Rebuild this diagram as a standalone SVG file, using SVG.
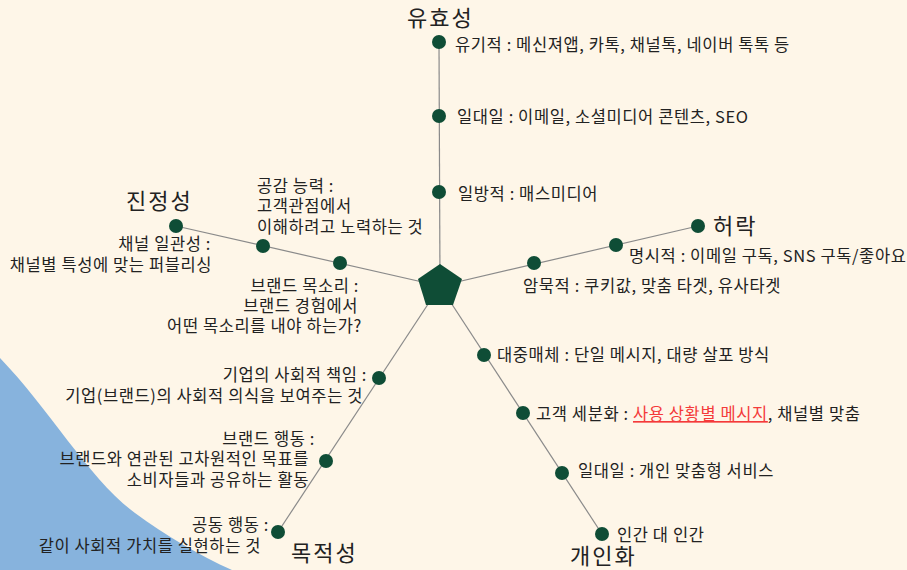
<svg xmlns="http://www.w3.org/2000/svg" width="907" height="570" viewBox="0 0 907 570">
<style>
text{font-family:"Noto Sans CJK KR","Noto Sans",sans-serif;fill:#222;}
.t{font-size:22px;letter-spacing:2px;}
.l{font-size:16.5px;letter-spacing:0.6px;}
.e{text-anchor:end;}
.dot{fill:#0f4d36;}
.ln{stroke:#8a8a8a;stroke-width:1.2;fill:none;}
.red{fill:#f43a3a;text-decoration:underline;}
</style>
<rect width="907" height="570" fill="#fef6e8"/>
<path d="M0,358 C50,410 90,480 135,513 C165,535 200,556 232,570 L0,570 Z" fill="#87b3dd"/>
<g id="connectors">
<line class="ln" x1="440" y1="286" x2="439" y2="42"/>
<line class="ln" x1="440" y1="286" x2="176" y2="226"/>
<line class="ln" x1="440" y1="286" x2="698" y2="226"/>
<line class="ln" x1="440" y1="286" x2="278" y2="532"/>
<line class="ln" x1="440" y1="286" x2="602" y2="534"/>
</g>
<g id="center"><polygon points="440,264 462,279 453,305 426,305 418,279" fill="#0f4d36"/></g>
<g id="effectiveness">
<text class="t" x="407" y="26">유효성</text>
<g id="e1"><circle class="dot" cx="439" cy="42" r="7"/><text class="l" x="455" y="51">유기적 : 메신져앱, 카톡, 채널톡, 네이버 톡톡 등</text></g>
<g id="e2"><circle class="dot" cx="439" cy="116" r="7"/><text class="l" x="457" y="123">일대일 : 이메일, 소셜미디어 콘텐츠, SEO</text></g>
<g id="e3"><circle class="dot" cx="439" cy="192" r="7"/><text class="l" x="458" y="200">일방적 : 매스미디어</text></g>
</g>
<g id="authenticity">
<text class="t" x="126" y="209">진정성</text>
<g id="a1"><circle class="dot" cx="176" cy="226" r="7"/><text class="l e"><tspan x="211" y="250">채널 일관성 :</tspan><tspan x="212" y="271">채널별 특성에 맞는 퍼블리싱</tspan></text></g>
<g id="a2"><circle class="dot" cx="263" cy="246" r="7"/><text class="l"><tspan x="257" y="192">공감 능력 :</tspan><tspan x="257" y="212">고객관점에서</tspan><tspan x="257" y="233">이해하려고 노력하는 것</tspan></text></g>
<g id="a3"><circle class="dot" cx="340" cy="263" r="7"/><text class="l e"><tspan x="359" y="292">브랜드 목소리 :</tspan><tspan x="358" y="312">브랜드 경험에서</tspan><tspan x="362" y="332">어떤 목소리를 내야 하는가?</tspan></text></g>
</g>
<g id="permission">
<g id="p0"><circle class="dot" cx="698" cy="226" r="7"/><text class="t" x="713" y="234">허락</text></g>
<g id="p1"><circle class="dot" cx="616" cy="245" r="7"/><text class="l" x="629" y="262">명시적 : 이메일 구독, SNS 구독/좋아요</text></g>
<g id="p2"><circle class="dot" cx="534" cy="263" r="7"/><text class="l" x="523" y="292">암묵적 : 쿠키값, 맞춤 타겟, 유사타겟</text></g>
</g>
<g id="purpose">
<g id="u1"><circle class="dot" cx="379" cy="378" r="7"/><text class="l e"><tspan x="367" y="381">기업의 사회적 책임 :</tspan><tspan x="363" y="402">기업(브랜드)의 사회적 의식을 보여주는 것</tspan></text></g>
<g id="u2"><circle class="dot" cx="326" cy="461" r="7"/><text class="l e"><tspan x="315" y="445">브랜드 행동 :</tspan><tspan x="309" y="465">브랜드와 연관된 고차원적인 목표를</tspan><tspan x="309" y="486">소비자들과 공유하는 활동</tspan></text></g>
<g id="u3"><circle class="dot" cx="278" cy="532" r="7"/><text class="l e"><tspan x="269" y="531">공동 행동 :</tspan><tspan x="261" y="552">같이 사회적 가치를 실현하는 것</tspan></text></g>
<text class="t" x="291" y="561">목적성</text>
</g>
<g id="personalization">
<g id="r1"><circle class="dot" cx="484" cy="355" r="7"/><text class="l" x="497" y="361">대중매체 : 단일 메시지, 대량 살포 방식</text></g>
<g id="r2"><circle class="dot" cx="523" cy="413" r="7"/><text class="l" x="536" y="420">고객 세분화 : <tspan class="red">사용 상황별 메시지</tspan>, 채널별 맞춤</text></g>
<g id="r3"><circle class="dot" cx="562" cy="473" r="7"/><text class="l" x="578" y="477">일대일 : 개인 맞춤형 서비스</text></g>
<g id="r4"><circle class="dot" cx="602" cy="534" r="7"/><text class="l" x="617" y="541">인간 대 인간</text></g>
<text class="t" x="570" y="564">개인화</text>
</g>
</svg>
